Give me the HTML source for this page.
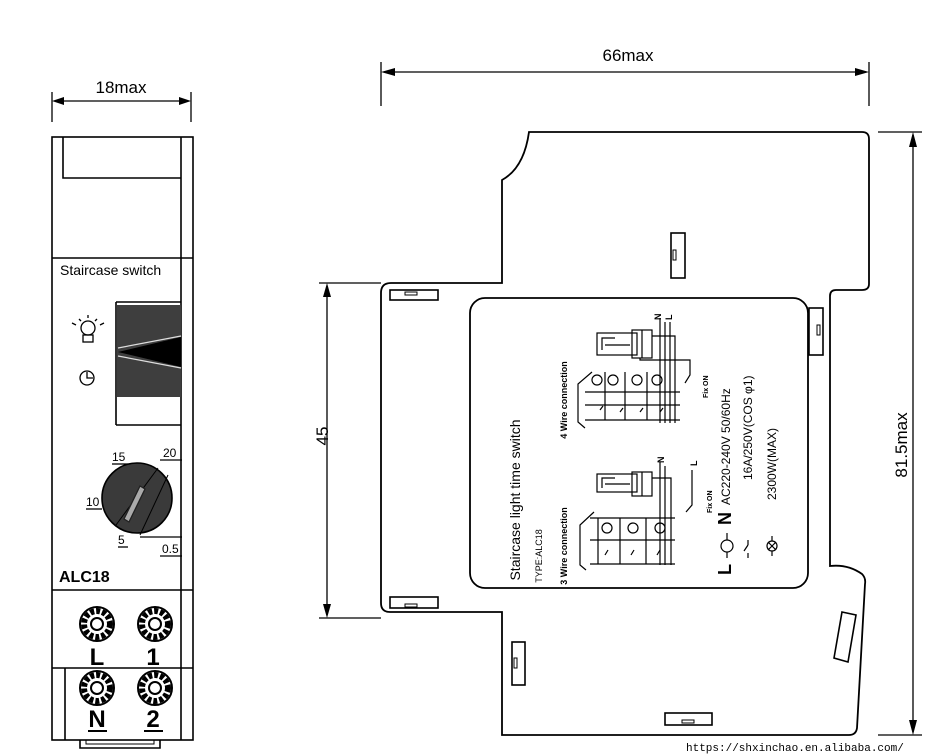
<!DOCTYPE html>
<html><head><meta charset="utf-8"><style>
html,body{margin:0;padding:0;background:#fff;}
svg{display:block;}
text{font-family:"Liberation Sans",sans-serif;fill:#000;}
</style></head><body>
<svg width="935" height="755" viewBox="0 0 935 755" xmlns="http://www.w3.org/2000/svg">
<g fill="none" stroke="#000" stroke-width="1.3">
<line x1="52" y1="92" x2="52" y2="122"/><line x1="191" y1="92" x2="191" y2="122"/>
<line x1="55" y1="101" x2="188" y2="101"/>
<line x1="381" y1="62" x2="381" y2="106"/><line x1="869" y1="62" x2="869" y2="106"/>
<line x1="384" y1="72" x2="866" y2="72"/>
<line x1="319" y1="283" x2="381" y2="283"/><line x1="319" y1="618" x2="381" y2="618"/>
<line x1="327" y1="286" x2="327" y2="615"/>
<line x1="878" y1="132" x2="922" y2="132"/><line x1="878" y1="735" x2="922" y2="735"/>
<line x1="913" y1="135" x2="913" y2="732"/>
</g>
<g fill="#000">
<polygon points="52,101 64,97 64,105"/><polygon points="191,101 179,97 179,105"/>
<polygon points="381,72 395,68 395,76"/><polygon points="869,72 855,68 855,76"/>
<polygon points="327,283 323,297 331,297"/><polygon points="327,618 323,604 331,604"/>
<polygon points="913,132 909,147 917,147"/><polygon points="913,735 909,720 917,720"/>
</g>
<text x="121" y="93" font-size="17" text-anchor="middle">18max</text>
<text x="628" y="61" font-size="17" text-anchor="middle">66max</text>
<text transform="translate(328,436) rotate(-90)" font-size="17" text-anchor="middle">45</text>
<text transform="translate(907,445) rotate(-90)" font-size="17" text-anchor="middle">81.5max</text>

<g fill="none" stroke="#000" stroke-width="1.6">
<rect x="52" y="137" width="141" height="603"/>
<line x1="181" y1="137" x2="181" y2="740"/>
<polyline points="63,137 63,178 181,178"/>
<line x1="52" y1="258" x2="193" y2="258"/>
<line x1="52" y1="590" x2="193" y2="590"/>
<line x1="52" y1="668" x2="193" y2="668"/>
<line x1="65" y1="668" x2="65" y2="740"/>
<polyline points="80,740 80,748 160,748 160,740"/>
<polyline points="86,740 86,744 154,744 154,740" stroke-width="1"/>
<polyline points="116,302 181,302"/>
<line x1="116" y1="302" x2="116" y2="425"/>
<line x1="116" y1="425" x2="181" y2="425"/>
</g>
<text x="60" y="275" font-size="14">Staircase switch</text>
<rect x="117" y="305" width="64" height="92" fill="#3e3e3e"/>
<polygon points="118,352 181,337 181,367" fill="#000"/>
<line x1="118" y1="348" x2="181" y2="336" stroke="#ddd" stroke-width="1.2"/>
<line x1="118" y1="356" x2="181" y2="368" stroke="#ddd" stroke-width="1.2"/>
<g fill="none" stroke="#000" stroke-width="1.3">
<circle cx="88" cy="328" r="7"/>
<rect x="83" y="335" width="10" height="7"/>
<line x1="88" y1="315" x2="88" y2="318"/><line x1="79" y1="319" x2="81" y2="321"/><line x1="97" y1="319" x2="95" y2="321"/>
<line x1="72" y1="323" x2="76" y2="325"/><line x1="104" y1="323" x2="100" y2="325"/>
<circle cx="87" cy="378" r="7"/><polyline points="87,372 87,378 93,378"/>
</g>
<g stroke="#000" stroke-width="1.3">
<line x1="112" y1="464" x2="128" y2="464"/><line x1="160" y1="460" x2="182" y2="460"/>
<line x1="86" y1="509" x2="102" y2="509"/><line x1="118" y1="547" x2="128" y2="547"/>
<line x1="140" y1="537" x2="182" y2="537"/><line x1="160" y1="556" x2="182" y2="556"/>
<circle cx="137" cy="498" r="35" fill="#3a3a3a" stroke-width="1.6"/>
<line x1="116" y1="525" x2="158" y2="468" stroke-width="1"/>
<line x1="140" y1="535" x2="168" y2="475" stroke-width="1"/>
<polygon points="124,519 140,486 145,489 129,522" fill="#aaa" stroke="#222"/>
</g>
<g font-size="12">
<text x="112" y="461">15</text><text x="163" y="457">20</text>
<text x="86" y="506">10</text><text x="118" y="544">5</text><text x="162" y="553">0.5</text>
</g>
<text x="59" y="582" font-size="16" font-weight="bold">ALC18</text>
<g fill="none" stroke="#000">
<g stroke-width="6" stroke-dasharray="4 2"><circle cx="97" cy="624" r="13"/><circle cx="155" cy="624" r="13"/><circle cx="97" cy="688" r="13"/><circle cx="155" cy="688" r="13"/></g>
<g stroke-width="2"><circle cx="97" cy="624" r="17"/><circle cx="155" cy="624" r="17"/><circle cx="97" cy="688" r="17"/><circle cx="155" cy="688" r="17"/>
<circle cx="97" cy="624" r="6"/><circle cx="155" cy="624" r="6"/><circle cx="97" cy="688" r="6"/><circle cx="155" cy="688" r="6"/></g>
</g>
<g font-size="24" font-weight="bold" text-anchor="middle">
<text x="97" y="665">L</text><text x="153" y="665">1</text>
<text x="97" y="727">N</text><text x="153" y="727">2</text>
</g>
<line x1="88" y1="731" x2="107" y2="731" stroke="#000" stroke-width="2"/>
<line x1="144" y1="731" x2="163" y2="731" stroke="#000" stroke-width="2"/>

<g fill="none" stroke="#000" stroke-width="1.8">
<path d="M529,132 L862,132 Q869,132 869,139 L869,284 Q869,290 862,290 L836,290 Q830,290 830,296 L830,566 Q848,564 862,574 Q866,578 865,584 L857,728 Q856,735 849,735 L502,735 L502,612 L390,612 Q381,612 381,603 L381,293 Q381,283 391,283 L502,283 L502,180 Q524,168 529,132 Z"/>
<rect x="470" y="298" width="338" height="290" rx="15"/>
</g>
<g fill="none" stroke="#000" stroke-width="1.6">
<rect x="390" y="290" width="48" height="10"/><rect x="405" y="292" width="12" height="3" stroke-width="1"/>
<rect x="390" y="597" width="48" height="11"/><rect x="405" y="604" width="12" height="3" stroke-width="1"/>
<rect x="671" y="233" width="14" height="45"/><rect x="673" y="250" width="3" height="10" stroke-width="1"/>
<rect x="809" y="308" width="14" height="47"/><rect x="817" y="325" width="3" height="10" stroke-width="1"/>
<rect x="512" y="642" width="13" height="43"/><rect x="514" y="658" width="3" height="10" stroke-width="1"/>
<rect x="665" y="713" width="47" height="12"/><rect x="682" y="720" width="12" height="3" stroke-width="1"/>
<polygon points="842,612 856,615 848,662 834,658"/>
</g>

<text transform="translate(520,500) rotate(-90)" font-size="14" text-anchor="middle">Staircase light time switch</text>
<text transform="translate(542,556) rotate(-90)" font-size="9" text-anchor="middle">TYPE:ALC18</text>
<text transform="translate(567,546) rotate(-90)" font-size="9" font-weight="bold" text-anchor="middle">3 Wire connection</text>
<text transform="translate(567,400) rotate(-90)" font-size="9" font-weight="bold" text-anchor="middle">4 Wire connection</text>
<text transform="translate(731,575) rotate(-90)" font-size="18" font-weight="bold">L</text>
<text transform="translate(731,525) rotate(-90)" font-size="18" font-weight="bold">N</text>
<text transform="translate(730,505) rotate(-90)" font-size="12">AC220-240V 50/60Hz</text>
<text transform="translate(752,480) rotate(-90)" font-size="12">16A/250V(COS φ1)</text>
<text transform="translate(776,500) rotate(-90)" font-size="12">2300W(MAX)</text>
<text transform="translate(708,398) rotate(-90)" font-size="7" font-weight="bold">Fix ON</text>
<text transform="translate(712,513) rotate(-90)" font-size="7" font-weight="bold">Fix ON</text>
<text transform="translate(661,320) rotate(-90)" font-size="9" font-weight="bold">N</text>
<text transform="translate(672,320) rotate(-90)" font-size="9" font-weight="bold">L</text>
<text transform="translate(664,463) rotate(-90)" font-size="9" font-weight="bold">N</text>
<text transform="translate(697,466) rotate(-90)" font-size="9" font-weight="bold">L</text>
<g fill="none" stroke="#000" stroke-width="1.2">
<line x1="727" y1="533" x2="727" y2="540"/><circle cx="727" cy="546" r="6"/><line x1="727" y1="552" x2="727" y2="558"/>
<line x1="748" y1="540" x2="748" y2="545"/><line x1="748" y1="545" x2="744" y2="551"/><line x1="748" y1="553" x2="748" y2="558"/>
<line x1="772" y1="536" x2="772" y2="541"/><circle cx="772" cy="546" r="5"/><line x1="768" y1="542" x2="776" y2="550"/><line x1="776" y1="542" x2="768" y2="550"/><line x1="772" y1="551" x2="772" y2="556"/>
<rect x="597" y="333" width="40" height="22"/><polyline points="602,350 602,338 615,338"/><line x1="605" y1="345" x2="630" y2="345"/>
<rect x="632" y="330" width="20" height="28"/><line x1="642" y1="330" x2="642" y2="358"/>
<line x1="660" y1="318" x2="660" y2="423"/><line x1="665" y1="322" x2="665" y2="423"/>
<line x1="670" y1="322" x2="670" y2="423"/><polyline points="652,336 675,336 675,423"/>
<polyline points="640,358 640,360 690,360 690,375 685,383"/>
<circle cx="597" cy="380" r="5"/><circle cx="613" cy="380" r="5"/><circle cx="637" cy="380" r="5"/><circle cx="657" cy="380" r="5"/>
<line x1="585" y1="392" x2="680" y2="392"/><line x1="585" y1="405" x2="680" y2="405"/><line x1="585" y1="420" x2="680" y2="420"/>
<line x1="625" y1="372" x2="625" y2="420"/><line x1="647" y1="372" x2="647" y2="420"/><line x1="605" y1="372" x2="605" y2="420"/>
<polyline points="592,372 578,384 578,422 585,428"/>
<path d="M600,410 l3,-4 M620,412 l3,-4 M640,412 l3,-4 M660,412 l3,-4"/>
<rect x="597" y="474" width="40" height="18"/><polyline points="602,488 602,478 615,478"/><line x1="605" y1="484" x2="630" y2="484"/>
<rect x="632" y="472" width="20" height="24"/><line x1="642" y1="472" x2="642" y2="496"/>
<line x1="660" y1="462" x2="660" y2="565"/><line x1="665" y1="466" x2="665" y2="565"/>
<polyline points="652,478 671,478 671,565"/><polyline points="692,470 692,505 686,512"/>
<circle cx="607" cy="528" r="5"/><circle cx="633" cy="528" r="5"/><circle cx="660" cy="528" r="5"/>
<line x1="590" y1="518" x2="675" y2="518"/><line x1="590" y1="540" x2="675" y2="540"/><line x1="590" y1="564" x2="675" y2="564"/>
<line x1="620" y1="518" x2="620" y2="564"/><line x1="646" y1="518" x2="646" y2="564"/><line x1="598" y1="518" x2="598" y2="564"/>
<polyline points="594,512 580,525 580,565 586,570"/>
<path d="M605,555 l3,-5 M631,555 l3,-5 M657,555 l3,-5"/>
</g>
<text x="686" y="751" font-size="11" style="font-family:'Liberation Mono',monospace">https://shxinchao.en.alibaba.com/</text>
</svg>
</body></html>
